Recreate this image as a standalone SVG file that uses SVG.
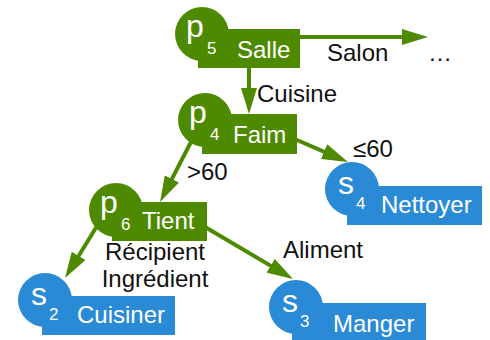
<svg xmlns="http://www.w3.org/2000/svg" width="490" height="340" viewBox="0 0 490 340">
  <style>
    text { font-family: "Liberation Sans", Arial, sans-serif; }
    .lbl { font-size: 24px; fill: #111; }
    .name { font-size: 24px; fill: #fff; }
    .big { font-size: 32px; fill: #fff; }
    .sub { font-size: 17px; fill: #fff; }
    .pnode { fill: #4e8a00; }
    .snode { fill: #2a8ad6; }
    .edge { stroke: #4e8a00; stroke-width: 4; fill: none; marker-end: url(#head); }
  </style>
  <defs>
    <marker id="head" markerUnits="userSpaceOnUse" markerWidth="26" markerHeight="16" refX="18" refY="8" orient="auto">
      <path d="M0,0 L26,8 L0,16 z" fill="#4e8a00"/>
    </marker>
  </defs>

  <!-- connectors -->
  <g id="edges">
    <path class="edge" d="M296,37 L420,37"/>
    <path class="edge" d="M249,62 L249,106"/>
    <path class="edge" d="M290,137 L340.6,158.8"/>
    <path class="edge" d="M195.6,133 L163.7,194.9"/>
    <path class="edge" d="M105,213 L69.2,271.2"/>
    <path class="edge" d="M200,224 L286.1,274.9"/>
  </g>

  <!-- edge labels -->
  <g id="edge-labels" class="lbl">
    <text x="327" y="61">Salon</text>
    <text x="428" y="61">…</text>
    <text x="257" y="102">Cuisine</text>
    <text x="353" y="157">≤60</text>
    <text x="187" y="180">&gt;60</text>
    <text x="155" y="260" text-anchor="middle">Récipient</text>
    <text x="155" y="287" text-anchor="middle">Ingrédient</text>
    <text x="283" y="258">Aliment</text>
  </g>

  <g id="p5">
    <rect class="pnode" x="198" y="29" width="102" height="39"/>
    <circle class="pnode" cx="202" cy="34" r="27"/>
    <text class="big" x="186" y="37">p</text>
    <text class="sub" x="207" y="54">5</text>
    <text class="name" x="237" y="58">Salle</text>
  </g>

  <g id="p4">
    <rect class="pnode" x="202" y="114" width="95" height="40"/>
    <circle class="pnode" cx="205" cy="120" r="27"/>
    <text class="big" x="189" y="123">p</text>
    <text class="sub" x="210" y="140">4</text>
    <text class="name" x="233" y="143">Faim</text>
  </g>

  <g id="p6">
    <rect class="pnode" x="112" y="202" width="95" height="39"/>
    <circle class="pnode" cx="116" cy="210" r="27"/>
    <text class="big" x="100" y="213">p</text>
    <text class="sub" x="121" y="230">6</text>
    <text class="name" x="142" y="229">Tient</text>
  </g>

  <g id="s2">
    <rect class="snode" x="42" y="296" width="133" height="39"/>
    <circle class="snode" cx="45" cy="300" r="27"/>
    <text class="big" x="31" y="305">s</text>
    <text class="sub" x="49" y="320">2</text>
    <text class="name" x="77" y="323">Cuisiner</text>
  </g>

  <g id="s3">
    <rect class="snode" x="292" y="303" width="134" height="39"/>
    <circle class="snode" cx="296" cy="307" r="27"/>
    <text class="big" x="282" y="312">s</text>
    <text class="sub" x="300" y="327">3</text>
    <text class="name" x="333" y="332">Manger</text>
  </g>

  <g id="s4">
    <rect class="snode" x="347" y="186" width="135" height="39"/>
    <circle class="snode" cx="352" cy="189" r="27"/>
    <text class="big" x="338" y="194">s</text>
    <text class="sub" x="356" y="209">4</text>
    <text class="name" x="381" y="213">Nettoyer</text>
  </g>
</svg>
